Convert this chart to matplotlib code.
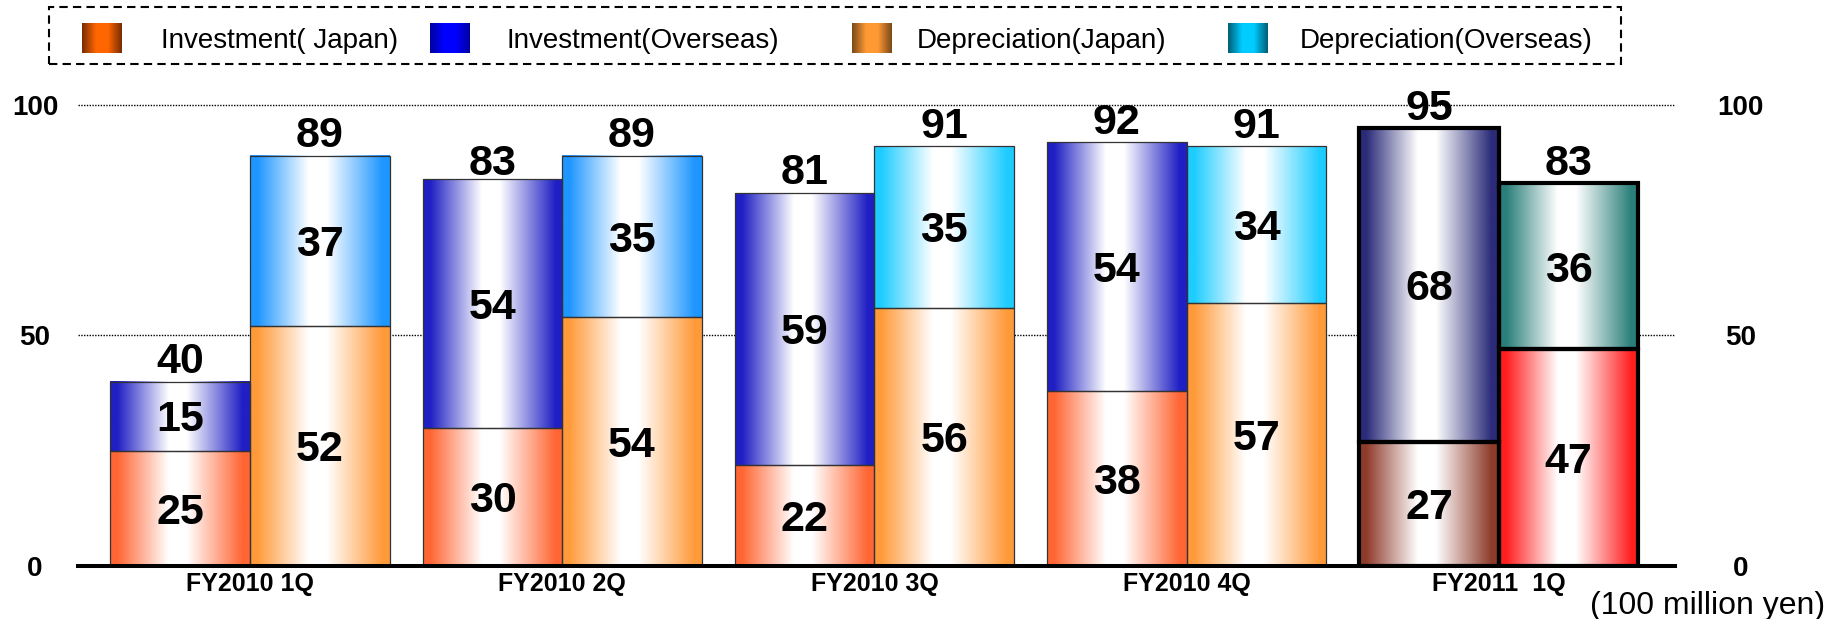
import numpy as np
import matplotlib
matplotlib.use("Agg")
import matplotlib.pyplot as plt
from matplotlib.colors import LinearSegmentedColormap
from matplotlib.patches import Rectangle

plt.rcParams['font.family'] = ['Liberation Sans', 'DejaVu Sans']

# ---- data (100 million yen) ----
quarters = ["FY2010 1Q", "FY2010 2Q", "FY2010 3Q", "FY2010 4Q", "FY2011  1Q"]
invest_japan = [25, 30, 22, 38, 27]
invest_overseas = [15, 54, 59, 54, 68]
invest_total = [40, 83, 81, 92, 95]
deprec_japan = [52, 54, 56, 57, 47]
deprec_overseas = [37, 35, 35, 34, 36]
deprec_total = [89, 89, 91, 91, 83]
y_ticks = [0, 50, 100]
legend_labels = ["Investment( Japan)", "Investment(Overseas)",
                 "Depreciation(Japan)", "Depreciation(Overseas)"]
unit_label = "(100 million yen)"

# ---- styling ----
inv_japan_colors = ['#FF6633'] * 4 + ['#8E3B2B']
inv_over_colors = ['#1F1FC4'] * 4 + ['#2B2B7A']
dep_japan_colors = ['#FF9A3A'] * 4 + ['#FF1E1E']
dep_over_colors = ['#1E96FF', '#1E96FF', '#1ECCFF', '#1ECCFF', '#2A7F7A']
edge_styles = [('#333333', 0.9)] * 4 + [('black', 3.0)]
legend_swatches = [('#FF6600', '#7A2E00'), ('#0000FF', '#0000A0'),
                   ('#FF9933', '#7A4A1A'), ('#00CCFF', '#005E78')]

W, H = 1835, 619
fig = plt.figure(figsize=(W / 100, H / 100), dpi=100)

ax_left, ax_right = 78, 1675
zero_px, px_per_unit = 566, 4.61
y_top = 105
ax = fig.add_axes([ax_left / W, (H - zero_px) / H,
                   (ax_right - ax_left) / W, y_top * px_per_unit / H])

x = np.arange(len(quarters))
bw = 0.447


def fill_gradient(patch, color, zorder=2):
    cmap = LinearSegmentedColormap.from_list(
        '', [(0, color), (0.05, color), (0.42, 'white'), (0.55, 'white'),
             (0.95, color), (1, color)])
    grad = np.linspace(0, 1, 256).reshape(1, -1)
    x0, y0 = patch.get_x(), patch.get_y()
    w, h = patch.get_width(), patch.get_height()
    ax.imshow(grad, extent=[x0, x0 + w, y0, y0 + h], cmap=cmap,
              aspect='auto', interpolation='bilinear', zorder=zorder)
    patch.set_facecolor('none')


def stacked(xpos, lower, upper, low_colors, up_colors):
    b1 = ax.bar(xpos, lower, bw, zorder=3)
    b2 = ax.bar(xpos, upper, bw, bottom=lower, zorder=3)
    for i, (p1, p2) in enumerate(zip(b1, b2)):
        ec, lw = edge_styles[i]
        fill_gradient(p1, low_colors[i])
        fill_gradient(p2, up_colors[i])
        for p in (p1, p2):
            p.set_edgecolor(ec)
            p.set_linewidth(lw)
    return b1, b2


inv_lo, inv_hi = stacked(x - bw / 2, invest_japan, invest_overseas,
                         inv_japan_colors, inv_over_colors)
dep_lo, dep_hi = stacked(x + bw / 2, deprec_japan, deprec_overseas,
                         dep_japan_colors, dep_over_colors)

# segment values, centred in each segment
for bars in (inv_lo, inv_hi, dep_lo, dep_hi):
    for p in bars:
        cy = p.get_y() + p.get_height() / 2
        ax.annotate(f"{p.get_height():g}", (p.get_x() + p.get_width() / 2, cy),
                    xytext=(0, -11), textcoords='offset points',
                    ha='center', va='baseline', fontsize=31,
                    fontweight='bold', zorder=5)

# totals on top of each stack
for xs, tot in ((x - bw / 2, invest_total), (x + bw / 2, deprec_total)):
    for xi, t in zip(xs, tot):
        ax.annotate(f"{t}", (xi, t), xytext=(0, 6), textcoords='offset points',
                    ha='center', va='baseline', fontsize=31,
                    fontweight='bold', zorder=5, annotation_clip=False)

ax.set_xlim(-0.551, 4.564)
ax.set_ylim(0, y_top)

# axes decoration
for side in ('left', 'right', 'top'):
    ax.spines[side].set_visible(False)
ax.spines['bottom'].set_linewidth(2.9)
ax.spines['bottom'].set_zorder(4)
ax.set_xticks(x, labels=quarters, fontsize=18, fontweight='bold')
ax.tick_params(axis='x', length=0, pad=4.3)
ax.set_yticks(y_ticks, labels=[str(t) for t in y_ticks], ha='center',
              fontsize=20, fontweight='bold')
ax.tick_params(axis='y', length=0, pad=31)
ax.yaxis.grid(True, linestyle=(0, (1, 1)), linewidth=1.0, color='black')
ax.set_axisbelow(True)

sec = ax.secondary_yaxis('right')
sec.set_yticks(y_ticks, labels=[str(t) for t in y_ticks], ha='center',
               fontsize=20, fontweight='bold')
sec.tick_params(length=0, pad=47)
sec.spines['right'].set_visible(False)

fig.text(1825 / W, 1 - 614 / H, unit_label, ha='right', va='baseline',
         fontsize=23)

# legend box
fig.patches.append(Rectangle((49 / W, 1 - 64 / H), (1621 - 49) / W, 57 / H,
                             transform=fig.transFigure, fill=False,
                             linestyle=(0, (4, 2.5)), linewidth=1.5,
                             edgecolor='black'))
swatch_x = [82, 430, 852, 1228]
text_x = [161, 506, 917, 1300]
for sx, tx, lab, (bright, dark) in zip(swatch_x, text_x, legend_labels,
                                       legend_swatches):
    sax = fig.add_axes([sx / W, 1 - 53 / H, 40 / W, 30 / H])
    cmap = LinearSegmentedColormap.from_list(
        '', [(0, dark), (0.35, bright), (0.65, bright), (1, dark)])
    sax.imshow(np.linspace(0, 1, 64).reshape(1, -1), cmap=cmap,
               aspect='auto', interpolation='bilinear')
    sax.axis('off')
    fig.text(tx / W, 1 - 48 / H, lab, ha='left', va='baseline', fontsize=20)

fig.savefig("out.png", dpi=100)
